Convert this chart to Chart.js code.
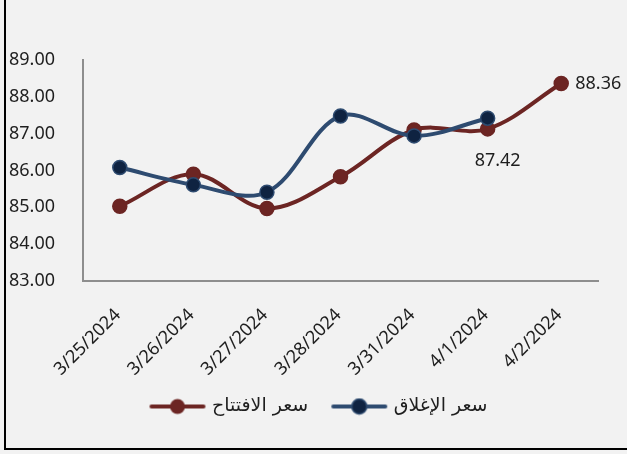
<!DOCTYPE html>
<html>
<head>
<meta charset="utf-8">
<script src="https://cdn.jsdelivr.net/npm/chart.js@4.4.1/dist/chart.umd.min.js"></script>
<style>
  html, body { margin: 0; padding: 0; background: #f2f2f2; overflow: hidden; }
  #wrap { position: relative; width: 627px; height: 454px; }
  #frame { position: absolute; left: 4px; top: -4px; width: 640px; height: 452px;
           border-left: 2px solid #000; border-bottom: 2px solid #000; pointer-events: none; }
</style>
</head>
<body>
<div id="wrap">
  <canvas id="chart" width="627" height="454"></canvas>
  <div id="frame"></div>
</div>
<script>
// data
const dates = ['3/25/2024', '3/26/2024', '3/27/2024', '3/28/2024', '3/31/2024', '4/1/2024', '4/2/2024'];
const openPrice = [85.03, 85.90, 84.97, 85.83, 87.10, 87.13, 88.36];
const closePrice = [86.08, 85.61, 85.41, 87.48, 86.94, 87.42, null];
const openName = 'سعر الافتتاح';
const closeName = 'سعر الإغلاق';
const yMin = 83, yMax = 89, yStep = 1;
// which points carry a value label
const openLabelled = [6];
const closeLabelled = [5];

const RED = '#6c2523';
const BLUE = '#2e4b70';
const NAVY = '#0f2341';
const TEXT = '#1e1e1e';
const AXIS = '#8e8e8e';

function legendMarker(line, dot, ring) {
  let c = document.createElement('canvas');
  c.width = 58; c.height = 18;
  let g = c.getContext('2d');
  g.strokeStyle = line; g.lineWidth = 4; g.lineCap = 'round';
  g.beginPath(); g.moveTo(3, 9); g.lineTo(55, 9); g.stroke();
  g.fillStyle = dot;
  g.beginPath(); g.arc(29, 9, 7.5, 0, Math.PI * 2); g.fill();
  if (ring) { g.strokeStyle = ring; g.lineWidth = 1.5; g.stroke(); }
  return c;
}
const markers = [legendMarker(BLUE, NAVY, BLUE), legendMarker(RED, RED)];

const pointLabels = {
  id: 'pointLabels',
  afterDatasetsDraw(chart) {
    let ctx = chart.ctx;
    ctx.save();
    ctx.font = '18px "Noto Sans"';
    ctx.fillStyle = TEXT;
    ctx.textBaseline = 'middle';
    let openMeta = chart.getDatasetMeta(1);
    ctx.textAlign = 'left';
    openLabelled.forEach(i => {
      let p = openMeta.data[i];
      ctx.fillText(openPrice[i].toFixed(2), p.x + 14, p.y);
    });
    let closeMeta = chart.getDatasetMeta(0);
    ctx.textAlign = 'center';
    closeLabelled.forEach(i => {
      let p = closeMeta.data[i];
      ctx.fillText(closePrice[i].toFixed(2), p.x + 10, p.y + 43);
    });
    ctx.restore();
  }
};

// rotated date labels, hung from the x scale's tick positions
const dateLabels = {
  id: 'dateLabels',
  afterDraw(chart) {
    let xs = chart.scales.x;
    let ctx = chart.ctx;
    ctx.save();
    ctx.font = '18px "Noto Sans"';
    ctx.fillStyle = TEXT;
    ctx.textAlign = 'right';
    ctx.textBaseline = 'middle';
    dates.forEach((d, i) => {
      ctx.save();
      ctx.translate(xs.getPixelForTick(i) - 2, xs.top + 31);
      ctx.rotate(-Math.PI / 4);
      ctx.fillText(d, 0, 0);
      ctx.restore();
    });
    ctx.restore();
  }
};

new Chart(document.getElementById('chart'), {
  type: 'line',
  data: {
    labels: dates,
    datasets: [{
      label: closeName,
      data: closePrice,
      borderColor: BLUE,
      borderWidth: 4,
      tension: 0.35,
      pointRadius: 7,
      pointBorderWidth: 1.5,
      pointBackgroundColor: NAVY,
      pointBorderColor: BLUE,
      pointHoverRadius: 7
    }, {
      label: openName,
      data: openPrice,
      borderColor: RED,
      borderWidth: 4,
      tension: 0.35,
      pointRadius: 7,
      pointBorderWidth: 1.5,
      pointBackgroundColor: RED,
      pointBorderColor: RED,
      pointHoverRadius: 7
    }]
  },
  options: {
    responsive: false,
    animation: false,
    layout: { padding: { left: 42, right: 29, top: 60, bottom: 28 } },
    scales: {
      x: {
        offset: true,
        grid: { display: false, drawTicks: false },
        border: { display: true, color: AXIS, width: 2 },
        ticks: { display: false },
        afterFit(s) { s.height = 90; }
      },
      y: {
        min: yMin, max: yMax,
        grid: { display: false, drawTicks: false },
        border: { display: true, color: AXIS, width: 2 },
        ticks: {
          stepSize: yStep,
          // mirrored so the labels are not clipped to the narrow axis box
          mirror: true,
          padding: -74,
          color: TEXT,
          font: { family: 'Noto Sans', size: 18 },
          callback: v => v.toFixed(2)
        },
        afterFit(s) { s.width = 41; }
      }
    },
    plugins: {
      tooltip: { enabled: false },
      legend: {
        position: 'bottom',
        labels: {
          usePointStyle: true,
          pointStyleWidth: 50,
          padding: 26,
          color: TEXT,
          font: { family: 'DejaVu Sans', size: 19 },
          generateLabels(chart) {
            let items = Chart.defaults.plugins.legend.labels.generateLabels(chart);
            items.forEach(it => { it.pointStyle = markers[it.datasetIndex]; });
            return items.reverse();
          }
        }
      }
    }
  },
  plugins: [pointLabels, dateLabels]
});
</script>
</body>
</html>
